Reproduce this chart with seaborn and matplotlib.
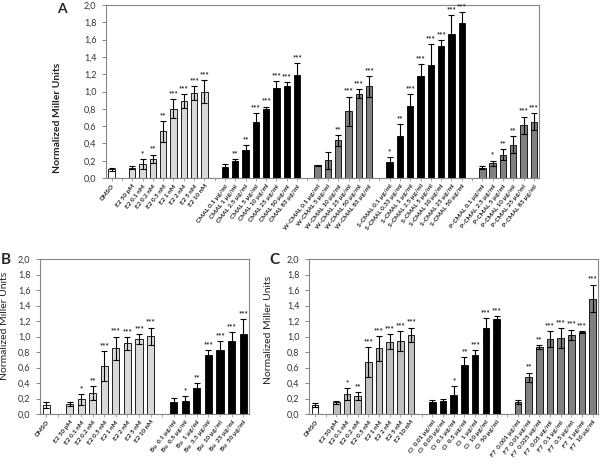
import matplotlib
matplotlib.use("Agg")
import matplotlib.pyplot as plt
import numpy as np
import pandas as pd
import seaborn as sns

sns.set_theme(style="white")
plt.rcParams["font.family"] = ["Lato", "DejaVu Sans"]

# shared labels
DMSO_LABEL = "DMSO"
E2_LABELS = ["E2 50 pM", "E2 0.1 nM", "E2 0.2 nM", "E2 0.5 nM",
             "E2 1 nM", "E2 2 nM", "E2 5 nM", "E2 10 nM"]

# panel A
A_DMSO_VALUE = [0.10]
A_DMSO_ERR = [0.02]
A_E2_VALUES = [0.12, 0.16, 0.22, 0.54, 0.80, 0.89, 0.98, 1.00]
A_E2_ERR = [0.02, 0.06, 0.05, 0.12, 0.11, 0.08, 0.08, 0.13]
A_E2_STARS = ["", "*", "**", "**", "***", "***", "***", "***"]

CMAL_LABELS = ["CMAL 0.1 µg/ml", "CMAL 1 µg/ml", "CMAL 2.5 µg/ml", "CMAL 5 µg/ml",
               "CMAL 10 µg/ml", "CMAL 25 µg/ml", "CMAL 50 µg/ml", "CMAL 83 µg/ml"]
CMAL_VALUES = [0.13, 0.20, 0.32, 0.65, 0.795, 1.04, 1.06, 1.185]
CMAL_ERR = [0.03, 0.02, 0.06, 0.10, 0.03, 0.08, 0.05, 0.14]
CMAL_STARS = ["", "**", "**", "***", "***", "***", "***", "***"]

W_CMAL_LABELS = ["W-CMAL 0.1 µg/ml", "W-CMAL 5 µg/ml", "W-CMAL 10 µg/ml",
                 "W-CMAL 25 µg/ml", "W-CMAL 50 µg/ml", "W-CMAL 83 µg/ml"]
W_CMAL_VALUES = [0.145, 0.205, 0.435, 0.77, 0.975, 1.06]
W_CMAL_ERR = [0.01, 0.10, 0.06, 0.17, 0.05, 0.12]
W_CMAL_STARS = ["", "", "**", "***", "***", "***"]

S_CMAL_LABELS = ["S-CMAL 0.1 µg/ml", "S-CMAL 0.33 µg/ml", "S-CMAL 1 µg/ml", "S-CMAL 2.5 µg/ml",
                 "S-CMAL 5 µg/ml", "S-CMAL 10 µg/ml", "S-CMAL 25 µg/ml", "S-CMAL 50 µg/ml"]
S_CMAL_VALUES = [0.19, 0.48, 0.83, 1.18, 1.31, 1.53, 1.67, 1.79]
S_CMAL_ERR = [0.05, 0.14, 0.14, 0.14, 0.24, 0.06, 0.21, 0.13]
S_CMAL_STARS = ["*", "**", "***", "***", "***", "***", "***", "***"]

P_CMAL_LABELS = ["P-CMAL 0.1 µg/ml", "P-CMAL 2.5 µg/ml", "P-CMAL 5 µg/ml",
                 "P-CMAL 10 µg/ml", "P-CMAL 25 µg/ml", "P-CMAL 83 µg/ml"]
P_CMAL_VALUES = [0.12, 0.17, 0.27, 0.385, 0.61, 0.65]
P_CMAL_ERR = [0.02, 0.03, 0.06, 0.10, 0.10, 0.10]
P_CMAL_STARS = ["", "*", "**", "**", "***", "***"]

# panel B
B_DMSO_VALUE = [0.12]
B_DMSO_ERR = [0.04]
B_E2_VALUES = [0.13, 0.19, 0.27, 0.62, 0.85, 0.91, 0.97, 1.005]
B_E2_ERR = [0.025, 0.07, 0.09, 0.19, 0.15, 0.08, 0.065, 0.11]
B_E2_STARS = ["", "*", "**", "***", "***", "***", "***", "***"]

BU_LABELS = ["Bu  0.1 µg/ml", "Bu  0.5 µg/ml", "Bu  1 µg/ml", "Bu  3.3 µg/ml",
             "Bu  10 µg/ml", "Bu  25 µg/ml", "Bu  50 µg/ml"]
BU_VALUES = [0.16, 0.17, 0.335, 0.765, 0.83, 0.945, 1.03]
BU_ERR = [0.05, 0.06, 0.07, 0.06, 0.11, 0.115, 0.19]
BU_STARS = ["", "*", "**", "***", "***", "***", "***"]

# panel C
C_DMSO_VALUE = [0.115]
C_DMSO_ERR = [0.03]
C_E2_VALUES = [0.15, 0.26, 0.235, 0.67, 0.85, 0.935, 0.94, 1.02]
C_E2_ERR = [0.02, 0.08, 0.05, 0.19, 0.16, 0.10, 0.13, 0.095]
C_E2_STARS = ["", "*", "**", "***", "***", "***", "***", "***"]

CL_LABELS = ["Cl  0.01 µg/ml", "Cl  0.05 µg/ml", "Cl  0.1 µg/ml", "Cl  0.5 µg/ml",
             "Cl  1 µg/ml", "Cl  10 µg/ml", "Cl  50 µg/ml"]
CL_VALUES = [0.16, 0.165, 0.245, 0.63, 0.765, 1.105, 1.22]
CL_ERR = [0.02, 0.025, 0.12, 0.11, 0.065, 0.13, 0.04]
CL_STARS = ["", "", "*", "**", "***", "***", "***"]

F7_LABELS = ["F7  0.001 µg/ml", "F7  0.01 µg/ml", "F7  0.025 µg/ml", "F7  0.05 µg/ml",
             "F7  0.1 µg/ml", "F7  0.5 µg/ml", "F7  1 µg/ml", "F7  10 µg/ml"]
F7_VALUES = [0.155, 0.475, 0.865, 0.965, 0.98, 1.02, 1.055, 1.49]
F7_ERR = [0.03, 0.06, 0.02, 0.10, 0.13, 0.07, 0.015, 0.18]
F7_STARS = ["", "**", "**", "***", "***", "***", "***", "***"]

WHITE, LIGHT, MID, DARK, BLACK = "#ffffff", "#d9d9d9", "#bfbfbf", "#808080", "#000000"
FRAME = "#868686"


def build_frame(groups):
    """groups: list of (labels, values, errors, stars, colour); a blank slot between groups."""
    rows, order, palette = [], [], {}
    for i, (labels, values, errors, stars, colour) in enumerate(groups):
        if i > 0:
            order.append(f"_gap{i}")
        palette[f"g{i}"] = colour
        for lab, v, e, s in zip(labels, values, errors, stars):
            rows.append({"label": lab, "value": v, "err": e, "stars": s, "group": f"g{i}"})
            order.append(lab)
    return pd.DataFrame(rows), order, palette


def draw_panel(ax, groups, ylabel_bold, ylabel_xy):
    df, order, palette = build_frame(groups)
    sns.barplot(data=df, x="label", y="value", hue="group", palette=palette, order=order,
                dodge=False, legend=False, errorbar=None, width=0.62,
                edgecolor="black", linewidth=0.6, ax=ax)

    xpos = [order.index(lab) for lab in df["label"]]
    ax.errorbar(xpos, df["value"], yerr=df["err"], fmt="none", ecolor="black",
                elinewidth=0.8, capsize=2.2, capthick=0.8, zorder=5)
    for x, v, e, s in zip(xpos, df["value"], df["err"], df["stars"]):
        if s:
            ax.text(x, v + e + 0.025, s, ha="center", va="bottom", fontsize=5.5,
                    fontweight="bold", color="#222222", clip_on=False)

    ax.set_xlim(-0.55, len(order) - 0.5)
    ax.set_ylim(0, 2.0)
    yt = np.round(np.arange(0, 2.01, 0.2), 1)
    ax.set_yticks(yt)
    ax.set_yticklabels([f"{t:.1f}".replace(".", ",") for t in yt], fontsize=6.5, color="#333333")
    ax.set_xticks(range(len(order)))
    ax.set_xticklabels(["" if l.startswith("_gap") else l for l in order], rotation=52,
                       ha="right", rotation_mode="anchor", fontsize=4.6, fontweight="bold",
                       color="#222222")
    ax.tick_params(axis="y", direction="out", length=3, width=0.7, color=FRAME, pad=4, left=True)
    ax.tick_params(axis="x", direction="out", length=2, width=0.5, color=FRAME, pad=2, bottom=True)
    ax.set_xlabel("")
    ax.set_ylabel("Normalized Miller Units", fontsize=7.5,
                  fontweight="bold" if ylabel_bold else "normal", color="#222222")
    ax.yaxis.set_label_coords(*ylabel_xy)
    for sp in ax.spines.values():
        sp.set_visible(True)
        sp.set_color(FRAME)
        sp.set_linewidth(0.8)


fig = plt.figure(figsize=(6, 4.68), dpi=100)
ax_a = fig.add_axes([106 / 600, 1 - 178 / 468, 433 / 600, 173 / 468])
ax_b = fig.add_axes([40 / 600, 1 - 414 / 468, 209 / 600, 155 / 468])
ax_c = fig.add_axes([309 / 600, 1 - 414 / 468, 289 / 600, 155 / 468])

draw_panel(ax_a, [
    ([DMSO_LABEL], A_DMSO_VALUE, A_DMSO_ERR, [""], WHITE),
    (E2_LABELS, A_E2_VALUES, A_E2_ERR, A_E2_STARS, LIGHT),
    (CMAL_LABELS, CMAL_VALUES, CMAL_ERR, CMAL_STARS, BLACK),
    (W_CMAL_LABELS, W_CMAL_VALUES, W_CMAL_ERR, W_CMAL_STARS, DARK),
    (S_CMAL_LABELS, S_CMAL_VALUES, S_CMAL_ERR, S_CMAL_STARS, BLACK),
    (P_CMAL_LABELS, P_CMAL_VALUES, P_CMAL_ERR, P_CMAL_STARS, DARK),
], True, (-0.102, 0.35))

draw_panel(ax_b, [
    ([DMSO_LABEL], B_DMSO_VALUE, B_DMSO_ERR, [""], WHITE),
    (E2_LABELS, B_E2_VALUES, B_E2_ERR, B_E2_STARS, LIGHT),
    (BU_LABELS, BU_VALUES, BU_ERR, BU_STARS, BLACK),
], False, (-0.15, 0.57))

draw_panel(ax_c, [
    ([DMSO_LABEL], C_DMSO_VALUE, C_DMSO_ERR, [""], WHITE),
    (E2_LABELS, C_E2_VALUES, C_E2_ERR, C_E2_STARS, MID),
    (CL_LABELS, CL_VALUES, CL_ERR, CL_STARS, BLACK),
    (F7_LABELS, F7_VALUES, F7_ERR, F7_STARS, DARK),
], False, (-0.125, 0.54))

fig.text(62 / 600, 1 - 9 / 468, "A", fontsize=10, fontweight="bold", ha="center", va="center")
fig.text(6 / 600, 1 - 260 / 468, "B", fontsize=11, fontweight="bold", ha="center", va="center")
fig.text(274 / 600, 1 - 260 / 468, "C", fontsize=11, fontweight="bold", ha="center", va="center")

fig.savefig("out.png", dpi=100)
